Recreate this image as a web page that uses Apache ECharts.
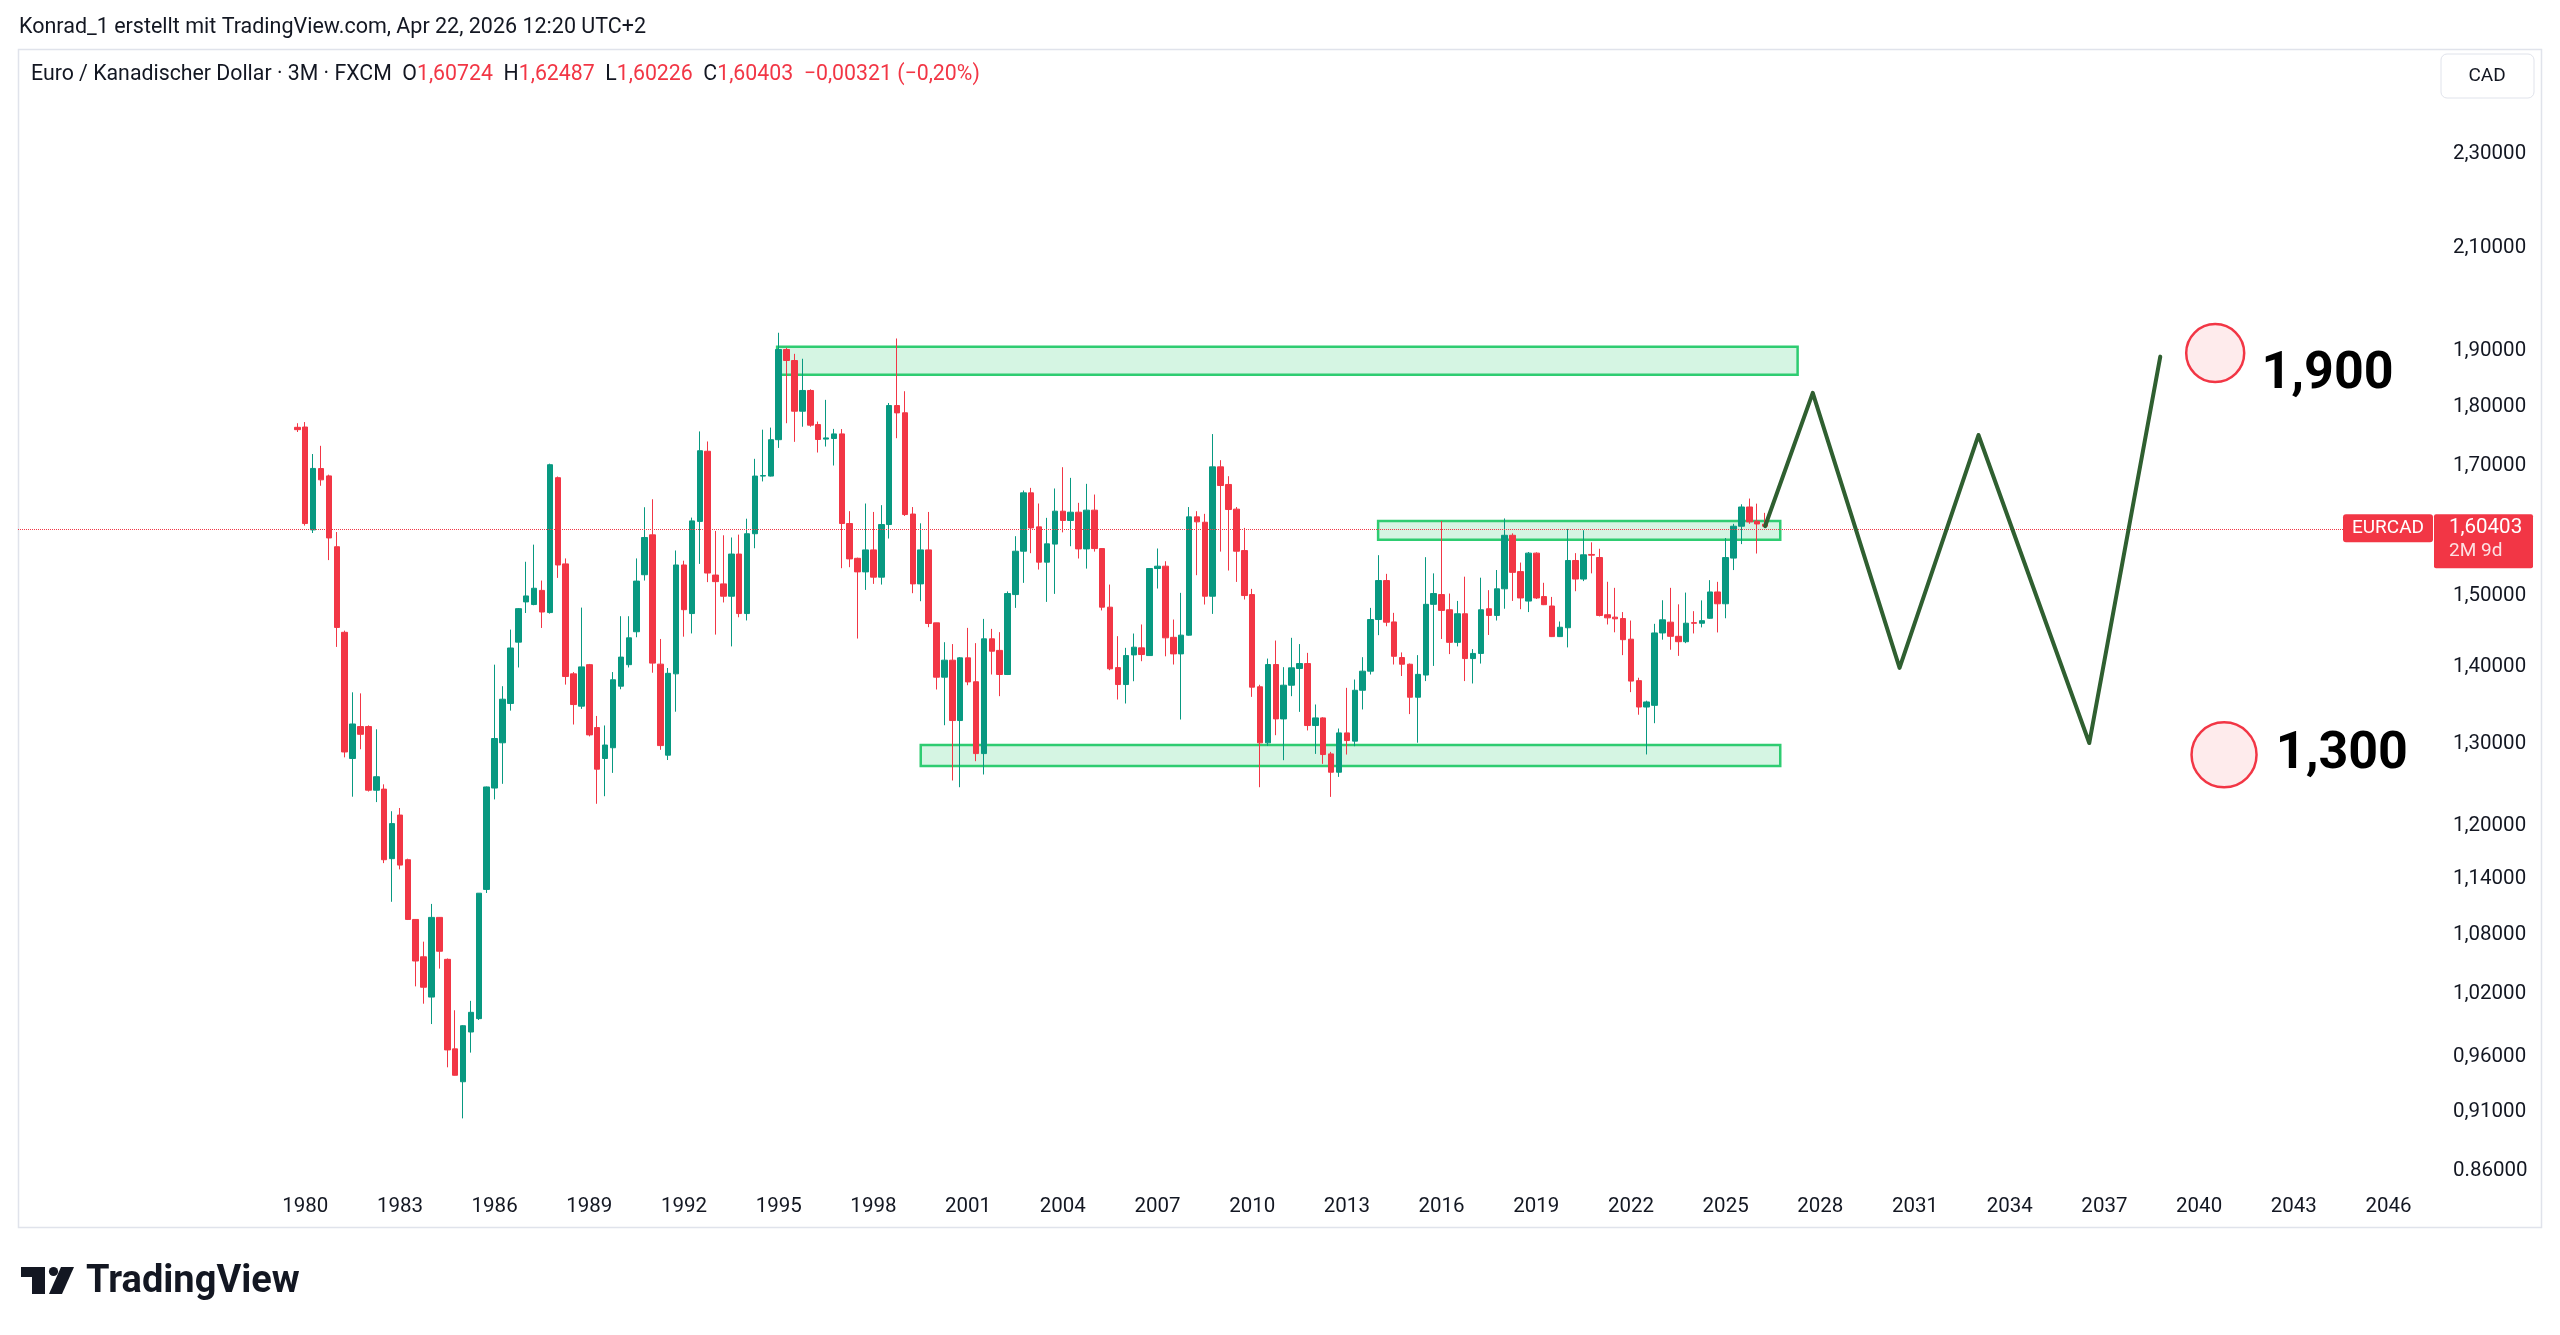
<!DOCTYPE html>
<html>
<head>
<meta charset="utf-8">
<title>EURCAD 3M</title>
<script src="https://cdn.jsdelivr.net/npm/echarts@6/dist/echarts.min.js"></script>
<style>
  html, body { margin: 0; padding: 0; background: #fff; }
  #chart { width: 2560px; height: 1335px; }
</style>
</head>
<body>
<div id="chart"></div>
<script>
// quarterly candles, first one is Q4 1979
var firstQuarter = 1979.75;

var opens = [
  1.765,
  1.7655, 1.5983, 1.696, 1.684,
  1.5725, 1.4476, 1.2813, 1.3215,
  1.3215, 1.2426, 1.2439, 1.163,
  1.2131, 1.1618, 1.0966, 1.0577,
  1.0173, 1.0988, 1.0551, 0.9676,
  0.9373, 0.9835, 0.9963, 1.1289,
  1.2452, 1.3009, 1.3513, 1.4339,
  1.4908, 1.4870, 1.5075, 1.4755,
  1.6811, 1.5466, 1.3906, 1.3478,
  1.403, 1.3202, 1.2813, 1.2947,
  1.3741, 1.403, 1.4484, 1.5305,
  1.5907, 1.4037, 1.2854, 1.3906,
  1.545, 1.4741, 1.6115, 1.7246,
  1.530, 1.517, 1.499, 1.5614,
  1.4741, 1.5924, 1.6837, 1.6837,
  1.744, 1.903, 1.8828, 1.7927,
  1.829, 1.7697, 1.745, 1.7460,
  1.7538, 1.6082, 1.555, 1.5347,
  1.5677, 1.5269, 1.6066, 1.8026,
  1.790, 1.623, 1.517, 1.5677,
  1.4609, 1.3861, 1.4091, 1.3292,
  1.4123, 1.380, 1.2874, 1.4385,
  1.4225, 1.3897, 1.5014, 1.5657,
  1.6566, 1.6030, 1.5492, 1.5765,
  1.6275, 1.6129, 1.6259, 1.5692,
  1.6291, 1.5697, 1.4832, 1.399,
  1.3763, 1.4163, 1.4260, 1.4154,
  1.5397, 1.5432, 1.4406, 1.4177,
  1.4436, 1.6186, 1.6102, 1.4990,
  1.6988, 1.6701, 1.6307, 1.5667,
  1.5014, 1.3733, 1.3008, 1.4032,
  1.3313, 1.3754, 1.3978, 1.4045,
  1.3228, 1.3326, 1.2870, 1.2644,
  1.3134, 1.3030, 1.3687, 1.3942,
  1.4656, 1.5219, 1.4622, 1.4127,
  1.4036, 1.3595, 1.3890, 1.4873,
  1.5014, 1.4795, 1.4336, 1.4738,
  1.4113, 1.4183, 1.4810, 1.4714,
  1.5098, 1.5900, 1.5351, 1.4920,
  1.5628, 1.4985, 1.4849, 1.4416,
  1.4540, 1.5517, 1.5241, 1.5608,
  1.5562, 1.4724, 1.4690, 1.4670,
  1.4380, 1.3815, 1.3467, 1.3489,
  1.4467, 1.4619, 1.4420, 1.4345,
  1.4612, 1.4603, 1.4674, 1.5052,
  1.4881, 1.5553, 1.6040, 1.6341,
  1.6119, 1.60724
];

var closes = [
  1.761,
  1.6082, 1.6962, 1.6776, 1.5859,
  1.4544, 1.2894, 1.3248, 1.3116,
  1.2426, 1.2589, 1.1618, 1.2031,
  1.1558, 1.0966, 1.0534, 1.0270,
  1.0988, 1.0634, 0.9666, 0.9432,
  0.9895, 1.0024, 1.1248, 1.2465,
  1.3063, 1.3569, 1.4258, 1.4811,
  1.4994, 1.5106, 1.4763, 1.7023,
  1.545, 1.387, 1.3499, 1.4000,
  1.3109, 1.2681, 1.2981, 1.3827,
  1.4133, 1.4399, 1.5211, 1.5866,
  1.4051, 1.2974, 1.3913, 1.545,
  1.4796, 1.6123, 1.7255, 1.533,
  1.5203, 1.499, 1.5614, 1.4741,
  1.5924, 1.6837, 1.6845, 1.744,
  1.903, 1.8828, 1.7927, 1.829,
  1.7687, 1.7443, 1.747, 1.7538,
  1.6082, 1.5541, 1.5347, 1.5677,
  1.5269, 1.6066, 1.8026, 1.7898,
  1.6222, 1.5170, 1.5677, 1.4600,
  1.3861, 1.4091, 1.3292, 1.4123,
  1.3798, 1.2874, 1.4385, 1.4214,
  1.3897, 1.5029, 1.5657, 1.6566,
  1.6014, 1.5492, 1.5769, 1.6275,
  1.6129, 1.6259, 1.5692, 1.6291,
  1.5697, 1.4832, 1.3974, 1.3763,
  1.4154, 1.4269, 1.4168, 1.5397,
  1.5432, 1.4399, 1.4177, 1.4436,
  1.6186, 1.6108, 1.4990, 1.6988,
  1.6684, 1.6301, 1.5657, 1.5000,
  1.3728, 1.3008, 1.4032, 1.3313,
  1.3754, 1.3987, 1.4045, 1.3228,
  1.3326, 1.2862, 1.2644, 1.3134,
  1.3037, 1.3687, 1.3942, 1.4656,
  1.5219, 1.4618, 1.4144, 1.4036,
  1.3595, 1.3899, 1.4873, 1.5029,
  1.4786, 1.4336, 1.4738, 1.4113,
  1.4183, 1.4795, 1.4714, 1.5098,
  1.5900, 1.5340, 1.4965, 1.5628,
  1.4965, 1.4868, 1.4416, 1.4547,
  1.5517, 1.5241, 1.5603, 1.5597,
  1.4714, 1.4680, 1.4666, 1.4373,
  1.3809, 1.3467, 1.3533, 1.4467,
  1.4652, 1.4420, 1.4345, 1.4604,
  1.4603, 1.4640, 1.5052, 1.4881,
  1.5561, 1.6040, 1.6341, 1.6108,
  1.6075, 1.60403
];

var lows = [
  1.757,
  1.605, 1.5935, 1.668, 1.5523,
  1.4273, 1.2827, 1.2348, 1.2928,
  1.241, 1.2284, 1.158, 1.1155,
  1.151, 1.096, 1.0279, 1.0108,
  0.9911, 1.0457, 0.9505, 0.943,
  0.9047, 0.9641, 0.995, 1.125,
  1.2316, 1.2503, 1.342, 1.3992,
  1.4749, 1.486, 1.4537, 1.474,
  1.5258, 1.3762, 1.3241, 1.3443,
  1.309, 1.2264, 1.2354, 1.2636,
  1.370, 1.3992, 1.4407, 1.5219,
  1.3921, 1.2921, 1.2794, 1.3406,
  1.4415, 1.4460, 1.5466, 1.5196,
  1.4444, 1.490, 1.428, 1.4688,
  1.4643, 1.5702, 1.6750, 1.683,
  1.7302, 1.772, 1.7404, 1.766,
  1.766, 1.7225, 1.7325, 1.701,
  1.5402, 1.5417, 1.4389, 1.5082,
  1.517, 1.516, 1.585, 1.7465,
  1.620, 1.5034, 1.4918, 1.4548,
  1.3697, 1.3232, 1.2543, 1.2462,
  1.3754, 1.2780, 1.2616, 1.3897,
  1.3609, 1.389, 1.4822, 1.5185,
  1.5627, 1.5382, 1.4908, 1.5024,
  1.5945, 1.5733, 1.5547, 1.5396,
  1.5651, 1.4785, 1.3955, 1.3565,
  1.3513, 1.3807, 1.4077, 1.415,
  1.5102, 1.4144, 1.4032, 1.3305,
  1.443, 1.5298, 1.4870, 1.4736,
  1.5651, 1.5367, 1.5199, 1.4942,
  1.360, 1.2462, 1.297, 1.3105,
  1.2792, 1.3609, 1.3404, 1.3165,
  1.2870, 1.2747, 1.2346, 1.2587,
  1.2862, 1.2966, 1.3435, 1.3897,
  1.4436, 1.4561, 1.4032, 1.3877,
  1.3375, 1.3010, 1.3809, 1.4013,
  1.4383, 1.4174, 1.428, 1.3809,
  1.3777, 1.4045, 1.4439, 1.4642,
  1.4810, 1.4922, 1.4803, 1.4762,
  1.495, 1.4862, 1.441, 1.441,
  1.4266, 1.5063, 1.5211, 1.5325,
  1.470, 1.4586, 1.4476, 1.4160,
  1.3662, 1.3367, 1.2863, 1.3258,
  1.4373, 1.4234, 1.4150, 1.4325,
  1.4460, 1.4545, 1.4665, 1.4474,
  1.4674, 1.5374, 1.5765, 1.6077,
  1.5622, 1.60226
];

var highs = [
  1.772,
  1.774, 1.720, 1.7337, 1.686,
  1.595, 1.450, 1.366, 1.3646,
  1.323, 1.318, 1.2497, 1.2176,
  1.2214, 1.163, 1.097, 1.0733,
  1.1132, 1.099, 1.056, 1.0044,
  0.990, 1.0136, 1.125, 1.247,
  1.403, 1.3741, 1.4514, 1.482,
  1.5498, 1.5757, 1.5219, 1.704,
  1.683, 1.5548, 1.393, 1.4826,
  1.404, 1.3351, 1.3229, 1.393,
  1.4703, 1.4703, 1.5548, 1.6337,
  1.6464, 1.4383, 1.3985, 1.5668,
  1.5514, 1.6174, 1.758, 1.741,
  1.5967, 1.590, 1.5866, 1.591,
  1.6157, 1.7120, 1.7610, 1.7645,
  1.934, 1.906, 1.895, 1.886,
  1.831, 1.7748, 1.8125, 1.7623,
  1.762, 1.6275, 1.556, 1.6396,
  1.6263, 1.6370, 1.807, 1.9233,
  1.8277, 1.6340, 1.6085, 1.6263,
  1.461, 1.4338, 1.4312, 1.4134,
  1.4538, 1.4325, 1.4665, 1.4524,
  1.4478, 1.506, 1.5886, 1.6604,
  1.6646, 1.6396, 1.617, 1.6636,
  1.6982, 1.6808, 1.6407, 1.6711,
  1.6539, 1.570, 1.516, 1.4422,
  1.4260, 1.4459, 1.4586, 1.540,
  1.5698, 1.5506, 1.4656, 1.5039,
  1.6340, 1.6275, 1.6233, 1.7535,
  1.7098, 1.6835, 1.634, 1.6014,
  1.5097, 1.376, 1.4113, 1.4361,
  1.3996, 1.4399, 1.4312, 1.4191,
  1.3500, 1.3335, 1.2895, 1.3190,
  1.3719, 1.3830, 1.4132, 1.4822,
  1.5597, 1.5318, 1.4751, 1.4197,
  1.4045, 1.4160, 1.5567, 1.5325,
  1.612, 1.5029, 1.4922, 1.5276,
  1.4243, 1.5261, 1.5078, 1.5375,
  1.6161, 1.5930, 1.5486, 1.5645,
  1.5640, 1.5186, 1.4980, 1.4628,
  1.5998, 1.5628, 1.5978, 1.5792,
  1.5694, 1.5201, 1.5112, 1.4762,
  1.4642, 1.3854, 1.3550, 1.4595,
  1.4932, 1.5112, 1.4873, 1.5043,
  1.4775, 1.4930, 1.5225, 1.5200,
  1.5858, 1.6077, 1.6384, 1.6475,
  1.6394, 1.62487
];

// drawn zones: [fromYear, toYear, lowPrice, highPrice]
var zoneTop = [1994.95, 2027.28, 1.857, 1.908];
var zoneMid = [2013.99, 2026.73, 1.583, 1.612];
var zoneLow = [1999.5, 2026.73, 1.272, 1.298];

// projected zig-zag path
var pathYears = [2026.25, 2027.76, 2030.51, 2033.01, 2036.52, 2038.77];
var pathPrices = [1.604, 1.8247, 1.3986, 1.7519, 1.3006, 1.8899];

// target markers
var targetYears = [2040.51, 2040.79];
var targetPrices = [1.8963, 1.2858];
var targetLabels = ['1,900', '1,300'];

var lastClose = 1.60403;
var xTicks = [1980, 1983, 1986, 1989, 1992, 1995, 1998, 2001, 2004, 2007, 2010, 2013,
              2016, 2019, 2022, 2025, 2028, 2031, 2034, 2037, 2040, 2043, 2046];
var yTicks = [0.86, 0.91, 0.96, 1.02, 1.08, 1.14, 1.20, 1.30, 1.40, 1.50,
              1.70, 1.80, 1.90, 2.10, 2.30];

var uiFont = 'Roboto, "Liberation Sans", sans-serif';
var upColor = '#089981';
var downColor = '#f23645';

var candles = [];
for (var i = 0; i < opens.length; i++) {
  candles.push([firstQuarter + i * 0.25, opens[i], closes[i], lows[i], highs[i]]);
}

function zoneArea(z) {
  return [{ xAxis: z[0], yAxis: z[3] }, { xAxis: z[1], yAxis: z[2] }];
}

function fmtPrice(v) {
  if (Math.abs(v - 0.86) < 1e-6) return '0.86000';
  return v.toFixed(5).replace('.', ',');
}

var dom = document.getElementById('chart');
var myChart = echarts.init(dom, null, { renderer: 'canvas' });

var option = {
  animation: false,
  backgroundColor: '#ffffff',
  grid: { left: 18, right: 127, top: 49, bottom: 148 },
  xAxis: {
    type: 'value',
    min: 1970.9,
    max: 2047.41,
    axisLine: { show: false },
    axisTick: { show: false },
    splitLine: { show: false },
    axisLabel: {
      customValues: xTicks,
      formatter: function (v) { return String(Math.round(v)); },
      color: '#131722',
      fontSize: 20.5,
      fontFamily: uiFont,
      margin: 9
    }
  },
  yAxis: {
    type: 'log',
    logBase: 10,
    position: 'right',
    min: 0.8466,
    max: 2.5447,
    axisLine: { show: false },
    axisTick: { show: false },
    splitLine: { show: false },
    axisLabel: {
      customValues: yTicks,
      formatter: fmtPrice,
      color: '#131722',
      fontSize: 20.5,
      fontFamily: uiFont,
      margin: 20
    }
  },
  series: [
    {
      type: 'candlestick',
      data: candles,
      encode: { x: 0, y: [1, 2, 3, 4] },
      barWidth: 6,
      itemStyle: {
        color: upColor,
        color0: downColor,
        borderColor: upColor,
        borderColor0: downColor,
        borderWidth: 1
      },
      markArea: {
        silent: true,
        itemStyle: {
          color: 'rgba(46, 204, 113, 0.2)',
          borderColor: '#2ecc71',
          borderWidth: 2.5
        },
        data: [zoneArea(zoneTop), zoneArea(zoneMid), zoneArea(zoneLow)]
      },
      markLine: {
        silent: true,
        symbol: ['none', 'none'],
        label: { show: false },
        lineStyle: { color: downColor, type: 'dotted', width: 1 },
        data: [{ yAxis: lastClose }]
      }
    },
    {
      type: 'line',
      data: pathYears.map(function (y, i) { return [y, pathPrices[i]]; }),
      showSymbol: false,
      symbol: 'none',
      z: 5,
      lineStyle: { color: '#2f5f30', width: 4, join: 'round', cap: 'round' }
    },
    {
      type: 'scatter',
      z: 6,
      data: [
        { value: [targetYears[0], targetPrices[0]], symbolSize: 58,
          label: { offset: [0, 22], distance: 16 } },
        { value: [targetYears[1], targetPrices[1]], symbolSize: 65,
          label: { offset: [0, 0], distance: 18 } }
      ],
      itemStyle: {
        color: 'rgba(242, 54, 69, 0.1)',
        borderColor: downColor,
        borderWidth: 2.5,
        opacity: 1
      },
      label: {
        show: true,
        position: 'right',
        formatter: function (p) { return targetLabels[p.dataIndex]; },
        color: '#000000',
        fontSize: 52,
        fontWeight: 'bold',
        fontFamily: uiFont
      }
    }
  ]
};

if (option && typeof option === 'object') {
  myChart.setOption(option, true);
}

// overlay texts, frame, price tags, logo
var py = myChart.convertToPixel({ yAxisIndex: 0 }, lastClose);
var legendText = '{k|Euro / Kanadischer Dollar · 3M · FXCM  O}{v|1,60724}{k|  H}{v|1,62487}' +
                 '{k|  L}{v|1,60226}{k|  C}{v|1,60403}{v|  \u22120,00321 (\u22120,20%)}';

myChart.setOption({
  graphic: [
    { type: 'rect', silent: true, z: -1,
      shape: { x: 18.5, y: 49.5, width: 2523, height: 1178 },
      style: { fill: 'none', stroke: '#e0e3eb', lineWidth: 1.5 } },
    { type: 'text', silent: true, x: 19, y: 28,
      style: { text: 'Konrad_1 erstellt mit TradingView.com, Apr 22, 2026 12:20 UTC+2',
               fill: '#131722', font: '21.5px ' + uiFont, verticalAlign: 'middle' } },
    { type: 'text', silent: true, x: 31, y: 75,
      style: { text: legendText, verticalAlign: 'middle', font: '21.3px ' + uiFont,
               rich: { k: { fill: '#131722', fontSize: 21.3, fontFamily: uiFont },
                       v: { fill: downColor, fontSize: 21.3, fontFamily: uiFont } } } },
    { type: 'rect', silent: true,
      shape: { x: 2441, y: 54, width: 93, height: 44, r: 6 },
      style: { fill: '#ffffff', stroke: '#e0e3eb', lineWidth: 1 } },
    { type: 'text', silent: true, x: 2487, y: 76,
      style: { text: 'CAD', fill: '#131722', font: '19px ' + uiFont,
               align: 'center', verticalAlign: 'middle' } },
    { type: 'rect', silent: true, z: 10,
      shape: { x: 2343, y: py - 12, width: 90, height: 28, r: 3 },
      style: { fill: downColor } },
    { type: 'text', silent: true, z: 11, x: 2388, y: py + 2,
      style: { text: 'EURCAD', fill: '#ffffff', font: '19px ' + uiFont,
               align: 'center', verticalAlign: 'middle' } },
    { type: 'rect', silent: true, z: 10,
      shape: { x: 2434, y: py - 12, width: 99, height: 54, r: 2 },
      style: { fill: downColor } },
    { type: 'text', silent: true, z: 11, x: 2449, y: py + 2,
      style: { text: '1,60403', fill: '#ffffff', font: '20.5px ' + uiFont,
               verticalAlign: 'middle' } },
    { type: 'text', silent: true, z: 11, x: 2449, y: py + 25,
      style: { text: '2M 9d', fill: 'rgba(255,255,255,0.85)', font: '19px ' + uiFont,
               verticalAlign: 'middle' } },
    // TradingView logo
    { type: 'polygon', silent: true,
      shape: { points: [[21, 1267], [45, 1267], [45, 1294], [32, 1294], [32, 1277], [21, 1277]] },
      style: { fill: '#131722' } },
    { type: 'circle', silent: true,
      shape: { cx: 53.5, cy: 1271.5, r: 4.6 },
      style: { fill: '#131722' } },
    { type: 'polygon', silent: true,
      shape: { points: [[61, 1267], [74, 1267], [62, 1294], [49, 1294]] },
      style: { fill: '#131722' } },
    { type: 'text', silent: true, x: 86, y: 1282,
      style: { text: 'TradingView', fill: '#131722', font: 'bold 38px ' + uiFont,
               verticalAlign: 'middle' } }
  ]
});
</script>
</body>
</html>
